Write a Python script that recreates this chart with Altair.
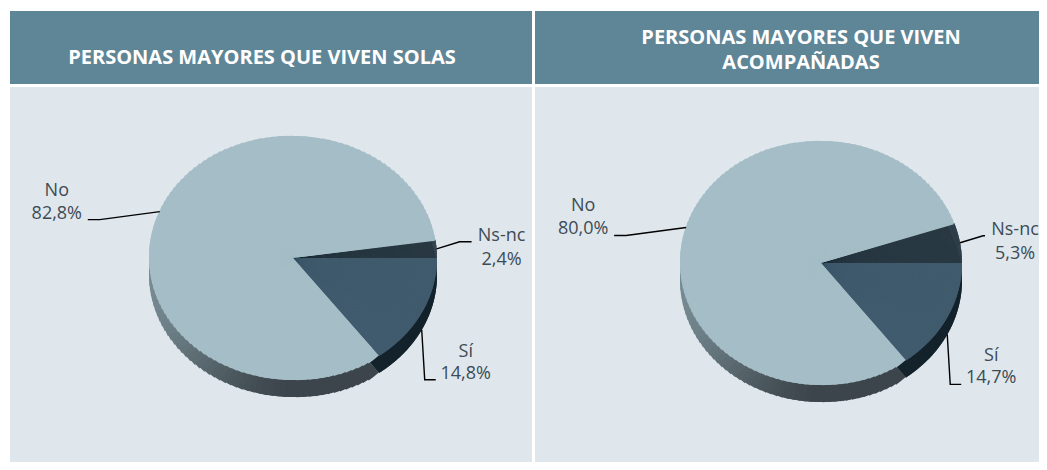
import altair as alt
import pandas as pd

# ---------------- data ----------------
titles = ["PERSONAS MAYORES QUE VIVEN SOLAS", "PERSONAS MAYORES QUE VIVEN\nACOMPAÑADAS"]
categories = ["Ns-nc", "Sí", "No"]
solas = [2.4, 14.8, 82.8]
acompanadas = [5.3, 14.7, 80.0]
panel_values = [solas, acompanadas]

# ---------------- layout / style ----------------
HEADER_H = 73
GAP = 3
BODY_H = 375
H = HEADER_H + GAP + BODY_H
panel_w = [522, 504]
pie_cx = [283, 286]
pie_cy = [247, 252]
pie_a = [144, 141]
pie_b = [122, 122]
THICK = 17
N_SUB = 120
title_x = [252, 266]
title_y = [47, 27]

header_color = "#5f8697"
body_color = "#dfe7ed"
top_colors = ["#2a3a44", "#405b6d", "#a5bdc6"]
side_dark = {"Ns-nc": "#1c2931", "Sí": "#13222b"}
no_side_dark = (60, 69, 75)
no_side_light = (118, 138, 146)
text_color = "#3d4b55"
FONT = "Open Sans"
LABEL_SIZE = 18

label_layout = {
    "No":    dict(ex=-60, ey=8,  hx=-12, tx=-31, ty1=-29, ty2=-6),
    "Ns-nc": dict(ex=23,  ey=-7, hx=12,  tx=30,  ty1=-6,  ty2=18),
    "Sí":    dict(ex=3,   ey=50, hx=11,  tx=30,  ty1=-28, ty2=-6),
}


def panel(i):
    W = panel_w[i]
    cx, cy, a, b = pie_cx[i], pie_cy[i], pie_a[i], pie_b[i]
    df = pd.DataFrame({
        "category": categories,
        "value": panel_values[i],
        "order": list(range(len(categories))),
    })
    for k in ["ex", "ey", "hx", "tx", "ty1", "ty2"]:
        df[k] = [label_layout[c][k] for c in categories]

    xs = alt.Scale(domain=[0, W], range=[0, W])
    ys = alt.Scale(domain=[0, H], range=[0, H])

    base = alt.Chart(df).transform_window(
        window=[alt.WindowFieldDef(op="sum", field="value", **{"as": "cum"}),
                alt.WindowFieldDef(op="first_value", field="value", **{"as": "first"})],
        sort=[alt.SortField("order")],
        frame=[None, 0],
    ).transform_joinaggregate(
        total="sum(value)"
    ).transform_calculate(
        start="datum.cum - datum.value"
    )

    theta_s = alt.Scale(domain=[0, 6.283185307179586], range=[0, 6.283185307179586])
    rad_s = alt.Scale(type="linear", domain=[0, 400], range=[0, 400])
    cat_color = alt.Color("category:N", scale=alt.Scale(domain=categories, range=top_colors), legend=None)

    # whole-category wedges (inner radius b) underneath the fine slices: hides seams at the centre
    under = base.transform_calculate(
        ps="2*PI*(datum.start - datum.first)/datum.total",
        pe="2*PI*(datum.cum - datum.first)/datum.total",
    ).transform_calculate(
        ts=f"atan2({a}*cos(datum.ps), -{b}*sin(datum.ps))",
        ter=f"atan2({a}*cos(datum.pe), -{b}*sin(datum.pe))",
    ).transform_calculate(
        te="datum.ter < datum.ts ? datum.ter + 2*PI : datum.ter",
    ).mark_arc(strokeWidth=0).encode(
        theta=alt.Theta("ts:Q", scale=theta_s, stack=None),
        theta2="te:Q",
        radius=alt.value(b - 2),
        x=alt.value(cx),
        y=alt.value(cy),
        color=cat_color,
    )

    slices = base.transform_calculate(
        sub=f"sequence(0, {N_SUB})"
    ).transform_flatten(["sub"]).transform_calculate(
        p0=f"2*PI*(datum.start + datum.value*datum.sub/{N_SUB} - datum.first)/datum.total",
        p1=f"2*PI*(datum.start + datum.value*(datum.sub+1)/{N_SUB} - datum.first)/datum.total",
    ).transform_calculate(
        pm="(datum.p0 + datum.p1)/2",
        t0=f"atan2({a}*cos(datum.p0), -{b}*sin(datum.p0))",
        t1r=f"atan2({a}*cos(datum.p1), -{b}*sin(datum.p1))",
    ).transform_calculate(
        t1w="datum.t1r < datum.t0 ? datum.t1r + 2*PI : datum.t1r",
        r=f"sqrt(pow({a}*cos(datum.pm), 2) + pow({b}*sin(datum.pm), 2))",
    ).transform_calculate(
        # overlap each sub-slice onto the next one of the same category to hide seams
        t1=f"datum.sub < {N_SUB - 1} ? datum.t1w + 1.2*(datum.t1w - datum.t0) : datum.t1w",
    )

    d0, l0 = no_side_dark, no_side_light
    side_expr = (
        "datum.category == 'No' ? "
        f"'rgb(' + round({d0[0]} + ({l0[0]}-{d0[0]})*datum.sh) + ',' + "
        f"round({d0[1]} + ({l0[1]}-{d0[1]})*datum.sh) + ',' + "
        f"round({d0[2]} + ({l0[2]}-{d0[2]})*datum.sh) + ')' : "
        f"(datum.category == 'Sí' ? '{side_dark['Sí']}' : '{side_dark['Ns-nc']}')"
    )
    side = slices.transform_calculate(
        sh="pow(max(0, -cos(datum.pm)), 1.6)"
    ).transform_calculate(
        scol=side_expr
    ).mark_arc(strokeWidth=0).encode(
        theta=alt.Theta("t0:Q", scale=theta_s, stack=None),
        theta2="t1:Q",
        radius=alt.Radius("r:Q", scale=rad_s),
        x=alt.value(cx),
        y=alt.value(cy + THICK),
        color=alt.Color("scol:N", scale=None, legend=None),
    )

    top = slices.mark_arc(strokeWidth=0).encode(
        theta=alt.Theta("t0:Q", scale=theta_s, stack=None),
        theta2="t1:Q",
        radius=alt.Radius("r:Q", scale=rad_s),
        x=alt.value(cx),
        y=alt.value(cy),
        color=cat_color,
    )

    anchors = base.transform_calculate(
        pm="2*PI*(datum.start + datum.value/2 - datum.first)/datum.total"
    ).transform_calculate(
        ax=f"{cx} + {a}*cos(datum.pm)",
        ay=f"{cy} + {b}*sin(datum.pm) + (sin(datum.pm) > 0 ? {THICK} : 0)",
    ).transform_calculate(
        ex_x=f"datum.hx > 0 ? min(datum.ax + datum.ex + datum.hx, {W - 54}) : datum.ax + datum.ex + datum.hx",
        ex_y="datum.ay + datum.ey",
    )

    lines = anchors.transform_calculate(
        pt="sequence(0, 3)"
    ).transform_flatten(["pt"]).transform_calculate(
        lx="datum.pt == 0 ? datum.ax : (datum.pt == 1 ? datum.ax + datum.ex : datum.ex_x)",
        ly="datum.pt == 0 ? datum.ay : datum.ex_y",
    ).mark_line(color="#000000", strokeWidth=1.4).encode(
        x=alt.X("lx:Q", scale=xs, axis=None),
        y=alt.Y("ly:Q", scale=ys, axis=None),
        detail="category:N",
        order="pt:Q",
    )

    name_txt = anchors.transform_calculate(
        tx_="datum.ex_x + datum.tx", ty_="datum.ex_y + datum.ty1"
    ).mark_text(font=FONT, fontSize=LABEL_SIZE, color=text_color, align="center",
                baseline="middle", clip=True).encode(
        x=alt.X("tx_:Q", scale=xs, axis=None),
        y=alt.Y("ty_:Q", scale=ys, axis=None),
        text="category:N",
    )
    pct_txt = anchors.transform_calculate(
        tx_="datum.ex_x + datum.tx", ty_="datum.ex_y + datum.ty2",
        lab="replace(format(datum.value, '.1f'), '.', ',') + '%'",
    ).mark_text(font=FONT, fontSize=LABEL_SIZE, color=text_color, align="center",
                baseline="middle", clip=True).encode(
        x=alt.X("tx_:Q", scale=xs, axis=None),
        y=alt.Y("ty_:Q", scale=ys, axis=None),
        text="lab:N",
    )

    one = pd.DataFrame({"title": [titles[i]]})
    header = alt.Chart(one).mark_rect(color=header_color).encode(
        x=alt.value(0), x2=alt.value(W), y=alt.value(0), y2=alt.value(HEADER_H))
    body = alt.Chart(one).mark_rect(color=body_color).encode(
        x=alt.value(0), x2=alt.value(W), y=alt.value(HEADER_H + GAP), y2=alt.value(H))
    title = alt.Chart(one).mark_text(
        font=FONT, fontSize=20, fontWeight="bold", color="white", align="center",
        baseline="middle", lineBreak="\n", lineHeight=25,
    ).encode(text="title:N", x=alt.value(title_x[i]), y=alt.value(title_y[i]))

    return alt.layer(body, header, title, side, under, top, lines, name_txt, pct_txt).properties(width=W, height=H)


chart = alt.hconcat(panel(0), panel(1), spacing=3).properties(
    padding={"left": 2, "top": 3, "right": 0, "bottom": 0},
    background="white",
).configure_view(stroke=None)

chart.save("out.html", embed_options={"renderer": "svg", "actions": False})
